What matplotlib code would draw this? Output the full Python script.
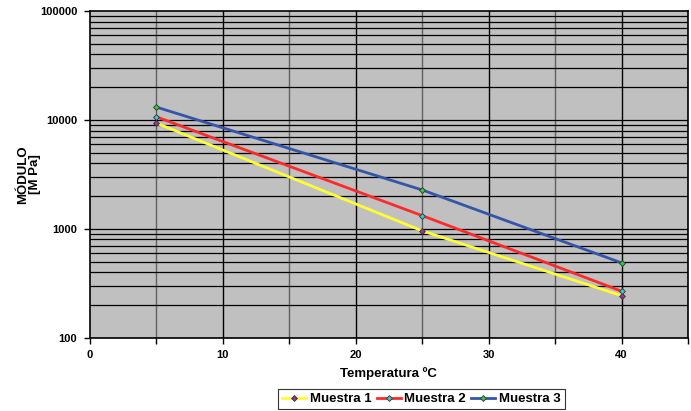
import matplotlib.pyplot as plt
from matplotlib.ticker import FixedLocator, NullFormatter, LogLocator

plt.rcParams['font.family'] = ['Liberation Sans', 'DejaVu Sans']
plt.rcParams['font.weight'] = 'bold'

temperatura = [5, 25, 40]
muestra_1 = [9380, 960, 244]
muestra_2 = [10700, 1325, 268]
muestra_3 = [13150, 2280, 488]

x_ticks = [0, 10, 20, 30, 40]
y_ticks = [100, 1000, 10000, 100000]

fig = plt.figure(figsize=(6.91, 4.11), dpi=100)
ax = fig.add_axes([0.130, 0.178, 0.8657, 0.795])
ax.set_facecolor('#C0C0C0')

ax.set_yscale('log')
ax.set_xlim(0, 45)
ax.set_ylim(100, 100000)

# grid: vertical every 5 (gray) and every 10 (black), horizontal at every log step
for xv in range(5, 45, 5):
    ax.axvline(xv, color='black' if xv % 10 == 0 else '#606060', lw=1.0, zorder=1)
for dec in [100, 1000, 10000]:
    for m in range(1, 10):
        ax.axhline(dec * m, color='black', lw=0.9, zorder=1)

ax.plot(temperatura, muestra_1, color='#FFFF33', lw=2, marker='D', ms=3,
        mfc='#993399', mec='#333333', mew=0.6, label='Muestra 1', zorder=3)
ax.plot(temperatura, muestra_2, color='#FF2A2A', lw=2, marker='D', ms=3,
        mfc='#33CCCC', mec='#333333', mew=0.6, label='Muestra 2', zorder=3)
ax.plot(temperatura, muestra_3, color='#3355AA', lw=2, marker='D', ms=3,
        mfc='#33CC33', mec='#333333', mew=0.6, label='Muestra 3', zorder=3)

ax.xaxis.set_major_locator(FixedLocator(x_ticks))
ax.xaxis.set_minor_locator(FixedLocator(list(range(0, 50, 5))))
ax.xaxis.set_minor_formatter(NullFormatter())
ax.yaxis.set_major_locator(FixedLocator(y_ticks))
ax.yaxis.set_major_formatter(plt.FuncFormatter(lambda v, p: f'{int(v)}'))
ax.yaxis.set_minor_locator(LogLocator(subs=[]))
ax.tick_params(axis='both', which='both', direction='out', length=4, width=1,
               labelsize=8, pad=5)
ax.tick_params(axis='y', which='minor', length=0)
for lbl in ax.get_xticklabels() + ax.get_yticklabels():
    lbl.set_fontweight('bold')

for s in ax.spines.values():
    s.set_color('black')
    s.set_linewidth(1.2)

ax.set_xlabel('Temperatura ºC', fontsize=9.5, fontweight='bold', labelpad=5)
ax.set_ylabel('MÓDULO\n[M Pa]', fontsize=9.5, fontweight='bold', linespacing=1.0)
ax.yaxis.set_label_coords(-0.082, 0.5)

leg = fig.legend(loc='lower center', bbox_to_anchor=(0.61, -0.012), ncol=3,
                 fontsize=9.5, frameon=True, fancybox=False, edgecolor='black',
                 handlelength=1.8, handletextpad=0.3, columnspacing=0.4,
                 borderpad=0.3)
leg.get_frame().set_linewidth(0.8)
for t in leg.get_texts():
    t.set_fontweight('bold')

fig.savefig('out.png', dpi=100)
